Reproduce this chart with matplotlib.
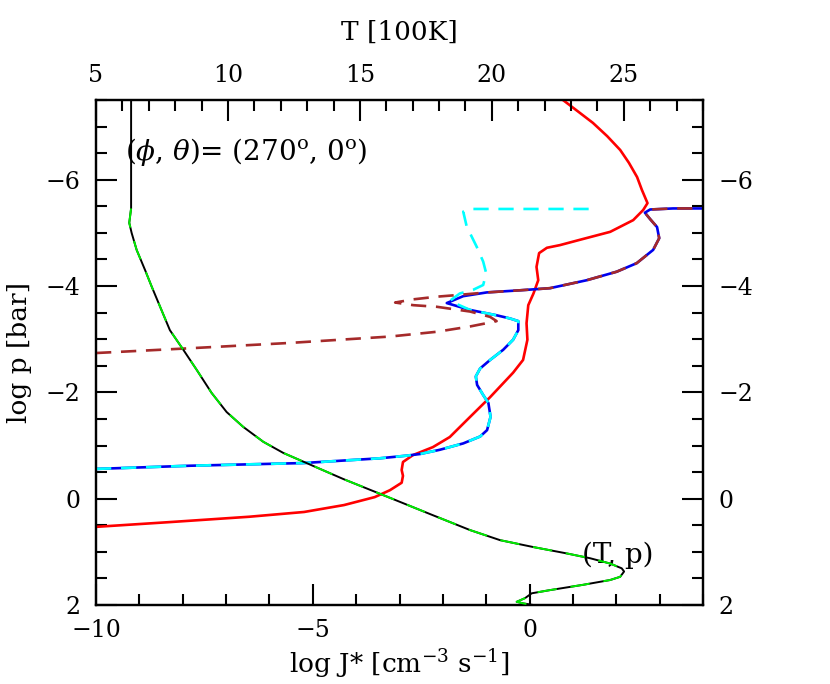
import matplotlib
matplotlib.use("Agg")
import matplotlib.pyplot as plt
from matplotlib.ticker import MultipleLocator

plt.rcParams['font.family'] = ['DejaVu Serif']
plt.rcParams['mathtext.fontset'] = 'dejavuserif'
plt.rcParams['lines.scale_dashes'] = False

# (T, p) profile: T in 100 K (top axis), log p [bar]
tp_T = [6.33, 6.33, 6.26, 6.35, 6.54, 6.86, 7.11, 7.80, 8.31, 8.82, 9.38, 9.95,
        10.58, 11.34, 12.10, 12.98, 14.37, 16.02, 17.66, 19.17, 20.31, 21.57,
        22.84, 23.72, 24.48, 24.92, 25.01, 24.86, 24.48, 23.46, 22.20, 21.51,
        21.26, 20.94, 21.19, 21.57]
tp_logp = [-7.5, -5.46, -5.19, -5.00, -4.68, -4.30, -3.99, -3.17, -2.80, -2.42,
           -1.99, -1.63, -1.35, -1.07, -0.86, -0.67, -0.37, -0.04, 0.29, 0.59,
           0.78, 0.91, 1.03, 1.12, 1.22, 1.31, 1.37, 1.47, 1.53, 1.62, 1.72,
           1.78, 1.87, 1.94, 1.97, 2.0]

# red solid curve: log J*
red_J = [0.77, 1.14, 1.46, 1.79, 2.09, 2.29, 2.48, 2.59, 2.72, 2.62, 2.39, 1.86,
         1.16, 0.70, 0.40, 0.22, 0.16, 0.20, 0.09, -0.03, -0.07, -0.05, -0.15,
         -0.38, -0.91, -1.37, -1.84, -2.23, -2.69, -2.92, -2.95, -2.92, -2.95,
         -3.22, -3.57, -4.28, -5.20, -6.47, -8.29, -10.0]
red_logp = [-7.5, -7.27, -7.07, -6.82, -6.56, -6.32, -6.05, -5.81, -5.56, -5.43,
            -5.24, -5.02, -4.87, -4.77, -4.72, -4.62, -4.36, -4.11, -3.86, -3.64,
            -3.30, -2.99, -2.61, -2.37, -1.91, -1.54, -1.16, -0.97, -0.82, -0.69,
            -0.54, -0.43, -0.30, -0.16, -0.03, 0.12, 0.25, 0.34, 0.44, 0.53]

# blue solid curve
blue_J = [-10.0, -7.83, -5.23, -3.45, -2.83, -2.53, -2.07, -1.53, -1.14, -0.98,
          -0.90, -0.95, -1.07, -1.21, -1.24, -1.14, -0.91, -0.61, -0.38, -0.26,
          -0.26, -0.45, -0.76, -1.37, -1.91, -1.53, -0.99, -0.22, 0.47, 1.32,
          2.01, 2.47, 2.85, 2.99, 2.94, 2.78, 2.66, 2.78, 3.31, 4.0]
blue_logp = [-0.56, -0.62, -0.67, -0.76, -0.81, -0.84, -0.92, -1.04, -1.17, -1.29,
             -1.54, -1.80, -1.95, -2.14, -2.30, -2.45, -2.61, -2.80, -2.99, -3.17,
             -3.34, -3.39, -3.45, -3.55, -3.68, -3.81, -3.88, -3.92, -3.96, -4.11,
             -4.27, -4.43, -4.68, -4.90, -5.11, -5.26, -5.38, -5.44, -5.46, -5.46]

# cyan dashed curve
cyan_J = [-10.0, -7.83, -5.23, -3.45, -2.83, -2.53, -2.07, -1.53, -1.14, -0.98,
          -0.90, -0.95, -1.07, -1.21, -1.24, -1.14, -0.91, -0.61, -0.38, -0.26,
          -0.26, -0.45, -0.76, -1.37, -1.84, -1.61, -1.30, -1.07, -1.00, -1.07,
          -1.22, -1.45, -1.53, -1.30, 1.46]
cyan_logp = [-0.56, -0.62, -0.67, -0.76, -0.81, -0.84, -0.92, -1.04, -1.17, -1.29,
             -1.54, -1.80, -1.95, -2.14, -2.30, -2.45, -2.61, -2.80, -2.99, -3.17,
             -3.34, -3.39, -3.45, -3.55, -3.72, -3.86, -3.93, -4.02, -4.24, -4.46,
             -4.74, -5.12, -5.40, -5.45, -5.45]

# brown dashed curve
brown_J = [-10.0, -7.83, -5.53, -3.22, -2.14, -1.37, -1.00, -0.76, -0.91, -1.37,
           -2.14, -2.68, -3.10, -2.68, -2.14, -1.68, -0.99, -0.22, 0.47, 1.32,
           2.01, 2.47, 2.85, 2.99, 2.94, 2.78, 2.66, 2.78, 3.31, 4.0]
brown_logp = [-2.74, -2.83, -2.93, -3.05, -3.14, -3.24, -3.30, -3.34, -3.42, -3.52,
              -3.61, -3.64, -3.69, -3.75, -3.80, -3.83, -3.88, -3.92, -3.96, -4.11,
              -4.27, -4.43, -4.68, -4.90, -5.11, -5.26, -5.38, -5.44, -5.46, -5.46]

TICK_FS = 17
LAB_FS = 19
ANN_FS = 20

fig = plt.figure(figsize=(8.3, 6.84), dpi=100)
ax = fig.add_axes([96/830, 1-605/684, 607/830, 505/684])
ax2 = ax.twiny()

# J* curves on bottom axis
ax.plot(red_J, red_logp, color='#ff0000', lw=1.9, solid_joinstyle='round', zorder=3)
ax.plot(blue_J, blue_logp, color='#0000ee', lw=1.9, solid_joinstyle='round', zorder=3)
ax.plot(cyan_J, cyan_logp, color='#00ffff', lw=1.9, dashes=(11, 7), zorder=4)
ax.plot(brown_J, brown_logp, color='#a52a2a', lw=1.9, dashes=(11, 7), zorder=4)

# (T, p) profile on top axis
ax2.plot(tp_T, tp_logp, color='black', lw=1.4, zorder=3)
ax2.plot(tp_T[1:], tp_logp[1:], color='#00ee00', lw=1.4, dashes=(14, 10), zorder=4)

ax.set_xlim(-10, 4)
ax.set_ylim(2, -7.5)
ax2.set_xlim(5, 28)

ax.xaxis.set_major_locator(MultipleLocator(5))
ax.xaxis.set_minor_locator(MultipleLocator(1))
ax.yaxis.set_major_locator(MultipleLocator(2))
ax.yaxis.set_minor_locator(MultipleLocator(0.5))
ax2.xaxis.set_major_locator(MultipleLocator(5))
ax2.xaxis.set_minor_locator(MultipleLocator(1))

ax.tick_params(axis='x', which='both', direction='in', bottom=True, top=False,
               labelsize=TICK_FS, pad=10)
ax.tick_params(axis='y', which='both', direction='in', left=True, right=True,
               labelleft=True, labelright=True, labelsize=TICK_FS, pad=11)
ax2.tick_params(axis='x', which='both', direction='in', top=True, bottom=False,
                labelsize=TICK_FS, pad=9)
for a in (ax, ax2):
    a.tick_params(which='major', length=15, width=1.5)
    a.tick_params(which='minor', length=8, width=1.5)
    for s in a.spines.values():
        s.set_linewidth(1.6)

ax.set_xlabel(r'log J* [cm$^{-3}$ s$^{-1}$]', fontsize=LAB_FS, labelpad=4)
ax.set_ylabel('log p [bar]', fontsize=LAB_FS, labelpad=10)
ax2.set_xlabel('T [100K]', fontsize=LAB_FS, labelpad=18)

ax.text(0.047, 0.897, r'($\phi$, $\theta$)= (270$^{\rm o}$, 0$^{\rm o}$)',
        transform=ax.transAxes, fontsize=ANN_FS, va='center', ha='left')
ax.text(0.80, 0.099, '(T, p)', transform=ax.transAxes, fontsize=ANN_FS,
        va='center', ha='left')

fig.savefig('out.png', dpi=100)
